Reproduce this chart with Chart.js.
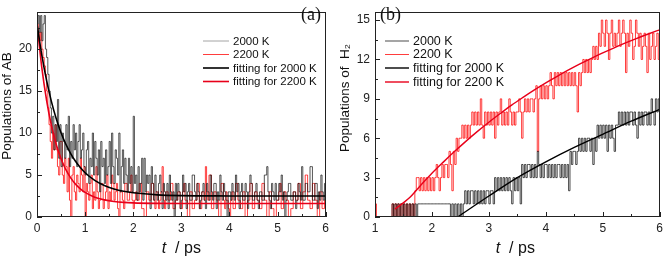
<!DOCTYPE html>
<html>
<head>
<meta charset="utf-8">
<script src="https://cdn.jsdelivr.net/npm/chart.js@4.4.1/dist/chart.umd.min.js"></script>
<style>
  html, body { margin: 0; padding: 0; background: #fff; }
  #wrap { position: relative; width: 667px; height: 258px; overflow: hidden; }
  canvas { position: absolute; top: 0; }
</style>
</head>
<body>
<div id="wrap">
  <canvas id="panelA" width="333" height="258" style="left:0"></canvas>
  <canvas id="panelB" width="334" height="258" style="left:333px"></canvas>
</div>
<script>
// ---- panel (a): populations of AB, sampled every 0.025 ps from 0 ps
var stepA = 0.025;
var ab2000 = [
  23, 24, 22, 24, 21, 23, 24, 20, 19, 17, 15, 13, 10, 12, 8, 11, 9, 14, 7, 11,
  6, 10, 9, 7, 11, 8, 12, 6, 9, 7, 11, 8, 10, 6, 9, 11, 7, 8, 10, 6,
  5, 8, 9, 4, 7, 6, 10, 5, 9, 7, 5, 8, 3, 9, 6, 7, 4, 8, 5, 6,
  9, 4, 10, 6, 4, 8, 7, 5, 10, 3, 6, 8, 4, 7, 5, 3, 7, 4, 6, 3,
  12, 4, 5, 2, 6, 3, 4, 7, 2, 7, 3, 5, 4, 5, 1, 6, 4, 2, 5, 3,
  2, 4, 5, 3, 1, 4, 3, 2, 4, 1, 5, 3, 2, 3, 0, 4, 2, 4, 3, 1,
  2, 5, 3, 4, 1, 3, 4, 2, 2, 5, 5, 3, 2, 4, 3, 1, 2, 3, 4, 2,
  1, 4, 3, 2, 5, 3, 2, 4, 4, 1, 3, 2, 5, 3, 2, 4, 3, 2, 0, 3,
  3, 2, 4, 3, 2, 5, 3, 4, 1, 3, 4, 2, 2, 4, 3, 1, 3, 5, 4, 2,
  2, 3, 4, 2, 1, 3, 3, 2, 2, 5, 5, 6, 3, 2, 1, 4, 3, 2, 4, 2,
  2, 4, 3, 5, 2, 3, 0, 2, 3, 4, 4, 2, 2, 3, 3, 1, 2, 4, 3, 2,
  6, 2, 2, 4, 4, 3, 3, 6, 6, 2, 2, 4, 4, 1, 3, 2, 5, 3, 2, 4,
  2
];
var ab2200 = [
  23, 22, 21, 22, 20, 19, 18, 17, 15, 13, 11, 9, 7, 10, 8, 11, 8, 6, 5, 9,
  9, 5, 4, 7, 6, 3, 7, 2, 0, 5, 6, 3, 2, 5, 4, 3, 7, 5, 3, 6,
  0, 4, 3, 2, 4, 5, 1, 3, 2, 6, 3, 1, 2, 4, 4, 1, 2, 3, 5, 1,
  3, 2, 5, 4, 2, 3, 4, 1, 0, 3, 3, 2, 1, 4, 4, 2, 2, 3, 5, 2,
  1, 2, 3, 2, 2, 4, 4, 1, 1, 0, 0, 3, 3, 2, 2, 4, 4, 2, 1, 3,
  3, 1, 2, 3, 6, 2, 1, 3, 3, 2, 2, 4, 4, 1, 1, 2, 2, 3, 3, 1,
  1, 3, 4, 2, 2, 0, 0, 3, 3, 1, 1, 2, 2, 4, 4, 1, 1, 3, 3, 2,
  6, 3, 2, 5, 5, 1, 1, 3, 3, 2, 2, 0, 0, 4, 4, 2, 1, 3, 2, 1,
  0, 2, 3, 1, 1, 4, 4, 2, 2, 1, 1, 3, 3, 0, 0, 2, 2, 4, 4, 1,
  1, 3, 3, 2, 2, 1, 1, 4, 4, 2, 2, 0, 0, 3, 3, 1, 1, 0, 0, 2,
  2, 3, 4, 1, 1, 3, 3, 2, 2, 0, 0, 1, 1, 3, 3, 2, 2, 4, 4, 1,
  1, 3, 3, 5, 5, 2, 2, 1, 1, 4, 4, 2, 2, 0, 0, 3, 3, 1, 1, 2,
  2
];
var fitTimeA = [0, 0.1, 0.2, 0.3, 0.4, 0.5, 0.6, 0.7, 0.8, 0.9, 1.0, 1.2, 1.4, 1.6, 1.8, 2.0, 2.5, 3, 4, 5, 6];
var fitAb2000 = [23.0, 19.28, 16.24, 13.75, 11.71, 10.04, 8.67, 7.56, 6.64, 5.89, 5.27, 4.36, 3.75, 3.34, 3.06, 2.88, 2.64, 2.55, 2.51, 2.5, 2.5];
var fitAb2200 = [23.0, 17.8, 13.88, 10.9, 8.64, 6.94, 5.64, 4.66, 3.92, 3.36, 2.93, 2.36, 2.04, 1.85, 1.74, 1.68, 1.62, 1.6, 1.6, 1.6, 1.6];
var xTicksA = [0, 1, 2, 3, 4, 5, 6];
var yTicksA = [0, 5, 10, 15, 20];

// ---- panel (b): populations of H2, sampled every 0.025 ps from 1 ps
var startB = 1, stepB = 0.025;
var h2000 = [
  0, 0, 0, 0, 0, 0, 0, 0, 0, 0,
  0, 0, 1, 0, 1, 0, 1, 0, 1, 0,
  1, 0, 1, 0, 1, 0, 1, 0, 1, 0,
  1, 1, 1, 1, 1, 1, 1, 1, 1, 1,
  1, 1, 1, 1, 1, 1, 1, 1, 1, 1,
  1, 1, 1, 0, 1, 0, 1, 0, 1, 0,
  1, 0, 1, 2, 1, 2, 1, 2, 2, 1,
  2, 1, 2, 1, 2, 1, 2, 1, 2, 2,
  1, 2, 2, 1, 3, 2, 3, 2, 3, 2,
  3, 2, 3, 2, 3, 2, 1, 3, 2, 3,
  2, 3, 1, 4, 3, 4, 3, 4, 4, 3,
  4, 3, 4, 3, 5, 4, 3, 4, 3, 4,
  4, 3, 4, 3, 4, 3, 4, 3, 4, 4,
  3, 4, 3, 4, 3, 4, 2, 5, 4, 5,
  5, 4, 5, 6, 5, 6, 5, 6, 5, 6,
  6, 5, 6, 4, 6, 5, 7, 6, 7, 6,
  7, 6, 7, 5, 7, 6, 7, 6, 5, 7,
  7, 8, 7, 8, 7, 8, 7, 8, 7, 8,
  8, 7, 8, 7, 6, 8, 7, 8, 7, 8,
  8, 7, 8, 7, 9, 8, 7, 9, 8, 9,
  8
];
var h2200 = [
  1, 0, 0, 0, 0, 0, 0, 0, 0, 0,
  0, 0, 1, 0, 1, 0, 1, 0, 1, 0,
  1, 0, 1, 0, 1, 0, 1, 0, 2, 3,
  3, 2, 3, 2, 3, 2, 3, 2, 3, 2,
  3, 2, 3, 4, 3, 2, 3, 4, 3, 4,
  4, 3, 5, 4, 2, 5, 4, 6, 5, 6,
  6, 7, 6, 7, 6, 7, 6, 7, 8, 7,
  8, 7, 8, 7, 9, 7, 6, 8, 7, 8,
  7, 8, 7, 8, 6, 8, 7, 8, 9, 7,
  8, 7, 8, 7, 9, 8, 7, 8, 7, 8,
  8, 9, 8, 6, 8, 9, 8, 9, 8, 9,
  9, 8, 9, 10, 5, 9, 10, 9, 10, 9,
  10, 9, 10, 11, 10, 9, 11, 10, 11, 10,
  11, 10, 11, 10, 11, 10, 11, 10, 11, 10,
  11, 10, 8, 11, 10, 11, 12, 11, 12, 11,
  12, 11, 12, 13, 12, 13, 12, 14, 13, 15,
  14, 13, 15, 14, 12, 14, 15, 13, 14, 13,
  14, 15, 13, 14, 15, 14, 11, 14, 13, 15,
  14, 12, 13, 15, 14, 13, 14, 12, 13, 14,
  13, 11, 14, 12, 13, 14, 12, 13, 14, 12,
  13
];
var fitTimeB2000 = [2.45, 3, 3.5, 4, 4.5, 5, 5.5, 6];
var fitH2000 = [0, 1.6, 3.0, 4.2, 5.3, 6.3, 7.3, 8.2];
var fitTimeB2200 = [1.35, 1.6, 1.8, 2.0, 2.2, 2.4, 2.6, 2.8, 3.0, 3.2, 3.4, 3.6, 3.8, 4.0, 4.2, 4.4, 4.6, 4.8, 5.0, 5.2, 5.4, 5.6, 5.8, 6.0];
var fitH2200 = [0.6, 1.44, 2.4, 3.33, 4.18, 5.0, 5.78, 6.52, 7.22, 7.88, 8.52, 9.11, 9.68, 10.22, 10.72, 11.2, 11.66, 12.09, 12.5, 12.89, 13.26, 13.61, 13.94, 14.26];
var xTicksB = [1, 2, 3, 4, 5, 6];
var yTicksB = [0, 3, 6, 9, 12, 15];

var legendNames = ['2000 K', '2200 K', 'fitting for 2000 K', 'fitting for 2200 K'];

function pts(xs, ys) {
  return ys.map(function (y, i) { return { x: xs[i], y: y }; });
}
function grid(start, step, n) {
  var out = [];
  for (var i = 0; i < n; i++) out.push(+(start + i * step).toFixed(4));
  return out;
}

// frame, inward ticks, axis titles, legend and panel letter
var decorations = {
  id: 'decorations',
  afterDraw: function (chart, args, o) {
    var ctx = chart.ctx, a = chart.chartArea;
    var xs = chart.scales.x, ys = chart.scales.y;
    ctx.save();
    ctx.strokeStyle = '#222';
    ctx.lineWidth = 1;
    ctx.strokeRect(Math.round(a.left) + 0.5, Math.round(a.top) + 0.5,
      Math.round(a.right - a.left) - 1, Math.round(a.bottom - a.top) - 1);

    ctx.beginPath();
    for (var v = o.xMin; v <= o.xMax + 1e-6; v += o.xMinor) {
      var px = Math.round(xs.getPixelForValue(v)) + 0.5;
      var major = Math.abs(v - Math.round(v / o.xMajor) * o.xMajor) < 1e-6;
      ctx.moveTo(px, a.bottom);
      ctx.lineTo(px, a.bottom - (major ? 5 : 3));
    }
    for (var w = 0; w <= ys.max + 1e-6; w += o.yMinor) {
      var py = Math.round(ys.getPixelForValue(w)) + 0.5;
      var majorY = Math.abs(w - Math.round(w / o.yMajor) * o.yMajor) < 1e-6;
      ctx.moveTo(a.left, py);
      ctx.lineTo(a.left + (majorY ? 5 : 3), py);
    }
    ctx.stroke();

    // x title with italic t
    ctx.fillStyle = '#111';
    ctx.textBaseline = 'alphabetic';
    ctx.textAlign = 'left';
    var fItal = 'italic 16px "Liberation Sans", Arial, sans-serif';
    var fNorm = '16px "Liberation Sans", Arial, sans-serif';
    ctx.font = fItal;
    var w1 = ctx.measureText('t').width;
    ctx.font = fNorm;
    var rest = '  / ps';
    var w2 = ctx.measureText(rest).width;
    var cx = (a.left + a.right) / 2 + o.xTitleShift;
    var x0 = cx - (w1 + w2) / 2;
    ctx.font = fItal;
    ctx.fillText('t', x0, 253);
    ctx.font = fNorm;
    ctx.fillText(rest, x0 + w1, 253);

    // y title
    ctx.save();
    ctx.translate(o.yTitleX, o.yTitleY);
    ctx.rotate(-Math.PI / 2);
    ctx.textAlign = 'center';
    ctx.textBaseline = 'middle';
    ctx.font = o.yTitleSize + 'px "Liberation Sans", Arial, sans-serif';
    ctx.fillText(o.yTitle, 0, 0);
    ctx.restore();

    // legend
    ctx.font = o.legendSize + 'px "Liberation Sans", Arial, sans-serif';
    ctx.textBaseline = 'middle';
    ctx.textAlign = 'left';
    o.legendRows.forEach(function (row, i) {
      var ds = chart.data.datasets[row];
      var y = o.legendY[i];
      ctx.strokeStyle = ds.legendColor || ds.borderColor;
      ctx.lineWidth = ds.borderWidth;
      ctx.beginPath();
      ctx.moveTo(o.legendX, y);
      ctx.lineTo(o.legendX + o.legendLen, y);
      ctx.stroke();
      ctx.fillStyle = '#111';
      ctx.fillText(ds.label, o.legendX + o.legendLen + 4, y + 0.5);
    });

    // panel letter
    ctx.font = '18px "Liberation Serif", "DejaVu Serif", serif';
    ctx.textBaseline = 'middle';
    ctx.fillStyle = '#111';
    ctx.fillText(o.letter, o.letterX, o.letterY);
    ctx.restore();
  }
};

function axis(min, max, ticks, pad, size) {
  return {
    type: 'linear',
    min: min,
    max: max,
    grid: { display: false, drawTicks: false },
    border: { display: false },
    afterBuildTicks: function (s) { s.ticks = ticks.map(function (v) { return { value: v }; }); },
    afterFit: function (s) {
      if (s.isHorizontal()) s.height = size; else s.width = size;
    },
    ticks: {
      padding: pad,
      color: '#222',
      font: { family: '"Liberation Sans", Arial, sans-serif', size: 12 }
    }
  };
}

function line(label, data, color, width, order, stepped, extra) {
  var d = {
    label: label,
    data: data,
    borderColor: color,
    borderWidth: width,
    pointRadius: 0,
    fill: false,
    order: order,
    stepped: stepped,
    cubicInterpolationMode: 'monotone'
  };
  for (var k in extra) d[k] = extra[k];
  return d;
}

var timeA = grid(0, stepA, ab2000.length);
new Chart(document.getElementById('panelA'), {
  type: 'line',
  data: {
    datasets: [
      line(legendNames[0], pts(timeA, ab2000), 'rgba(20,20,20,0.8)', 0.9, 3, true, { legendColor: '#9a9a9a' }),
      line(legendNames[1], pts(timeA, ab2200), 'rgba(255,0,0,0.85)', 0.9, 4, true, {}),
      line(legendNames[2], pts(fitTimeA, fitAb2000), '#000000', 1.6, 1, false, {}),
      line(legendNames[3], pts(fitTimeA, fitAb2200), '#e8001a', 1.6, 2, false, {})
    ]
  },
  options: {
    responsive: false,
    animation: false,
    devicePixelRatio: 1,
    layout: { padding: { left: 0, right: 6, top: 1, bottom: 0 } },
    plugins: {
      legend: { display: false },
      tooltip: { enabled: false },
      decorations: {
        xMin: 0, xMax: 6, xMajor: 1, xMinor: 0.5, yMajor: 5, yMinor: 2.5,
        xTitleShift: 0,
        yTitle: 'Populations of AB', yTitleX: 7, yTitleY: 106, yTitleSize: 13.5,
        legendRows: [0, 1, 2, 3], legendY: [41, 54.5, 68, 81.5],
        legendX: 203, legendLen: 26, legendSize: 11.5,
        letter: '(a)', letterX: 301, letterY: 15
      }
    },
    scales: {
      x: axis(0, 6, xTicksA, 4, 41),
      y: axis(0, 24.4, yTicksA, 5, 37)
    }
  },
  plugins: [decorations]
});

var timeB = grid(startB, stepB, h2000.length);
new Chart(document.getElementById('panelB'), {
  type: 'line',
  data: {
    datasets: [
      line(legendNames[0], pts(timeB, h2000), 'rgba(20,20,20,0.85)', 0.9, 3, true, {}),
      line(legendNames[1], pts(timeB, h2200), 'rgba(255,0,0,0.85)', 0.9, 4, true, {}),
      line(legendNames[2], pts(fitTimeB2000, fitH2000), '#000000', 1.4, 1, false, {}),
      line(legendNames[3], pts(fitTimeB2200, fitH2200), '#e8001a', 1.4, 2, false, {})
    ]
  },
  options: {
    responsive: false,
    animation: false,
    devicePixelRatio: 1,
    layout: { padding: { left: 0, right: 4, top: 1, bottom: 0 } },
    plugins: {
      legend: { display: false },
      tooltip: { enabled: false },
      decorations: {
        xMin: 1, xMax: 6, xMajor: 1, xMinor: 0.5, yMajor: 3, yMinor: 1.5,
        xTitleShift: -2,
        yTitle: 'Populations of  H\u2082', yTitleX: 12, yTitleY: 98, yTitleSize: 13.5,
        legendRows: [0, 1, 2, 3], legendY: [41, 54.5, 68, 82],
        legendX: 52, legendLen: 24, legendSize: 12.5,
        letter: '(b)', letterX: 47, letterY: 15
      }
    },
    scales: {
      x: axis(1, 6, xTicksB, 4, 41),
      y: axis(0, 15.6, yTicksB, 5, 42)
    }
  },
  plugins: [decorations]
});
</script>
</body>
</html>
